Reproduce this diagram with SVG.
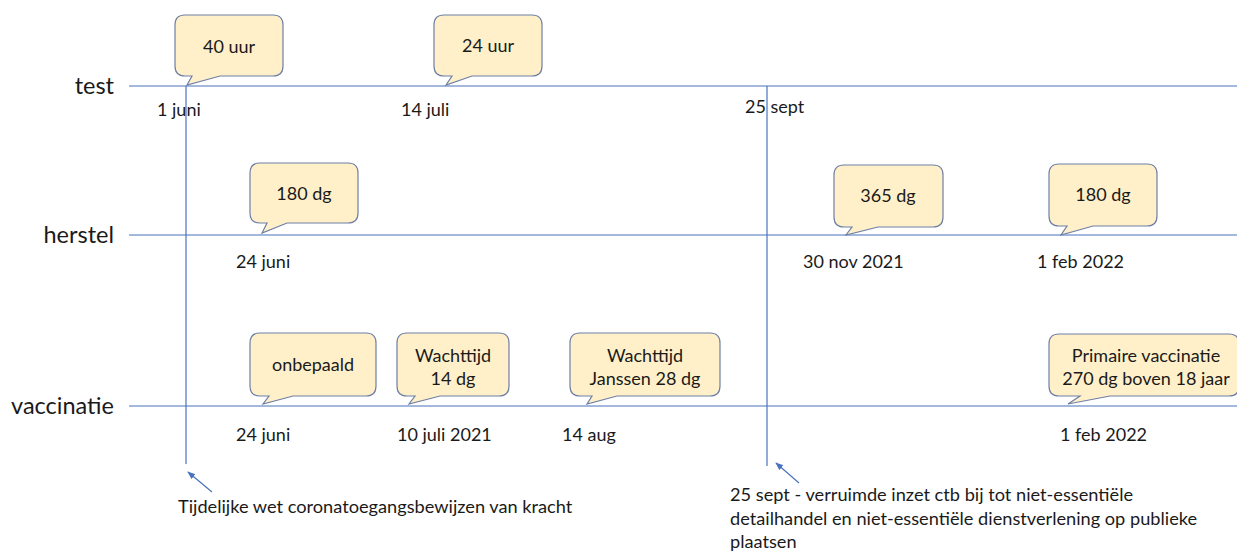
<svg xmlns="http://www.w3.org/2000/svg" width="1237" height="551" viewBox="0 0 1237 551">
<style>
text{font-family:Lato,"Open Sans","Liberation Sans",sans-serif;fill:#1a1a1a}
.row{font-size:23.5px;text-anchor:end}
.lbl{font-size:18px}
.ct{font-size:18px;text-anchor:middle}
.note{font-size:18.2px}
.co{fill:#FFF0C9;stroke:#6E7FA6;stroke-width:1.2}
.ax{stroke:#4A73BE;stroke-width:1.2;fill:none}
</style>
<defs>
<marker id="ah" viewBox="0 0 10 10" refX="9" refY="5" markerWidth="8" markerHeight="8" orient="auto" markerUnits="userSpaceOnUse">
<path d="M0,1 L10,5 L0,9 z" fill="#4A73BE"/>
</marker>
</defs>
<rect width="1237" height="551" fill="#fff"/>
<g id="rows">
<text class="row" x="114" y="94">test</text>
<text class="row" x="114" y="243">herstel</text>
<text class="row" x="114" y="414">vaccinatie</text>
</g>
<g id="connectors">
<line class="ax" x1="129" y1="86" x2="1237" y2="86"/>
<line class="ax" x1="129" y1="235" x2="1237" y2="235"/>
<line class="ax" x1="129" y1="406" x2="1237" y2="406"/>
<line class="ax" x1="186" y1="86" x2="186" y2="464"/>
<line class="ax" x1="767" y1="86" x2="767" y2="466"/>
<line class="ax" x1="212" y1="492" x2="188" y2="472" marker-end="url(#ah)"/>
<line class="ax" x1="799" y1="483" x2="776" y2="463" marker-end="url(#ah)"/>
</g>
<g id="callout-40uur">
<path class="co" d="M185,15 H273 Q283,15 283,25 V66 Q283,76 273,76 H220 L187,85 L192,76 H185 Q175,76 175,66 V25 Q175,15 185,15 Z"/>
<text class="ct" x="229" y="53">40 uur</text>
</g>
<g id="callout-24uur">
<path class="co" d="M444,15 H532 Q542,15 542,25 V66 Q542,76 532,76 H472 L446,85 L452,76 H444 Q434,76 434,66 V25 Q434,15 444,15 Z"/>
<text class="ct" x="488" y="52">24 uur</text>
</g>
<g id="callout-180dg-a">
<path class="co" d="M260,163 H348 Q358,163 358,173 V213 Q358,223 348,223 H287 L262,233 L267,223 H260 Q250,223 250,213 V173 Q250,163 260,163 Z"/>
<text class="ct" x="304" y="200">180 dg</text>
</g>
<g id="callout-365dg">
<path class="co" d="M844,165 H933 Q943,165 943,175 V217 Q943,227 933,227 H878 L846,235 L852,227 H844 Q834,227 834,217 V175 Q834,165 844,165 Z"/>
<text class="ct" x="888" y="202">365 dg</text>
</g>
<g id="callout-180dg-b">
<path class="co" d="M1059,164 H1147 Q1157,164 1157,174 V216 Q1157,226 1147,226 H1093 L1061,235 L1067,226 H1059 Q1049,226 1049,216 V174 Q1049,164 1059,164 Z"/>
<text class="ct" x="1103" y="201">180 dg</text>
</g>
<g id="callout-onbepaald">
<path class="co" d="M260,333 H366 Q376,333 376,343 V386 Q376,396 366,396 H293 L263,404 L269,396 H260 Q250,396 250,386 V343 Q250,333 260,333 Z"/>
<text class="ct" x="313" y="371">onbepaald</text>
</g>
<g id="callout-wachttijd14">
<path class="co" d="M407,333 H499 Q509,333 509,343 V386 Q509,396 499,396 H440 L409,404 L415,396 H407 Q397,396 397,386 V343 Q397,333 407,333 Z"/>
<text class="ct" x="453" y="362">Wachttijd</text>
<text class="ct" x="453" y="385">14 dg</text>
</g>
<g id="callout-janssen">
<path class="co" d="M580,333 H710 Q720,333 720,343 V386 Q720,396 710,396 H617 L587,404 L592,396 H580 Q570,396 570,386 V343 Q570,333 580,333 Z"/>
<text class="ct" x="645" y="362">Wachttijd</text>
<text class="ct" x="645" y="385">Janssen 28 dg</text>
</g>
<g id="callout-primaire">
<path class="co" d="M1059,334 H1229 Q1239,334 1239,344 V386 Q1239,396 1229,396 H1110 L1068,404 L1080,396 H1059 Q1049,396 1049,386 V344 Q1049,334 1059,334 Z"/>
<text class="ct" x="1146" y="362">Primaire vaccinatie</text>
<text class="ct" x="1146" y="385">270 dg boven 18 jaar</text>
</g>
<g id="dates">
<text class="lbl" x="157" y="116">1 juni</text>
<text class="lbl" x="401" y="116">14 juli</text>
<text class="lbl" x="745" y="113">25 sept</text>
<text class="lbl" x="236" y="268">24 juni</text>
<text class="lbl" x="803" y="268">30 nov 2021</text>
<text class="lbl" x="1037" y="268">1 feb 2022</text>
<text class="lbl" x="236" y="441">24 juni</text>
<text class="lbl" x="397" y="441">10 juli 2021</text>
<text class="lbl" x="562" y="441">14 aug</text>
<text class="lbl" x="1060" y="441">1 feb 2022</text>
</g>
<g id="notes">
<text class="note" x="178" y="513">Tijdelijke wet coronatoegangsbewijzen van kracht</text>
<text class="note" x="730" y="501">25 sept - verruimde inzet ctb bij tot niet-essentiële</text>
<text class="note" x="730" y="525">detailhandel en niet-essentiële dienstverlening op publieke</text>
<text class="note" x="730" y="548">plaatsen</text>
</g>
</svg>
